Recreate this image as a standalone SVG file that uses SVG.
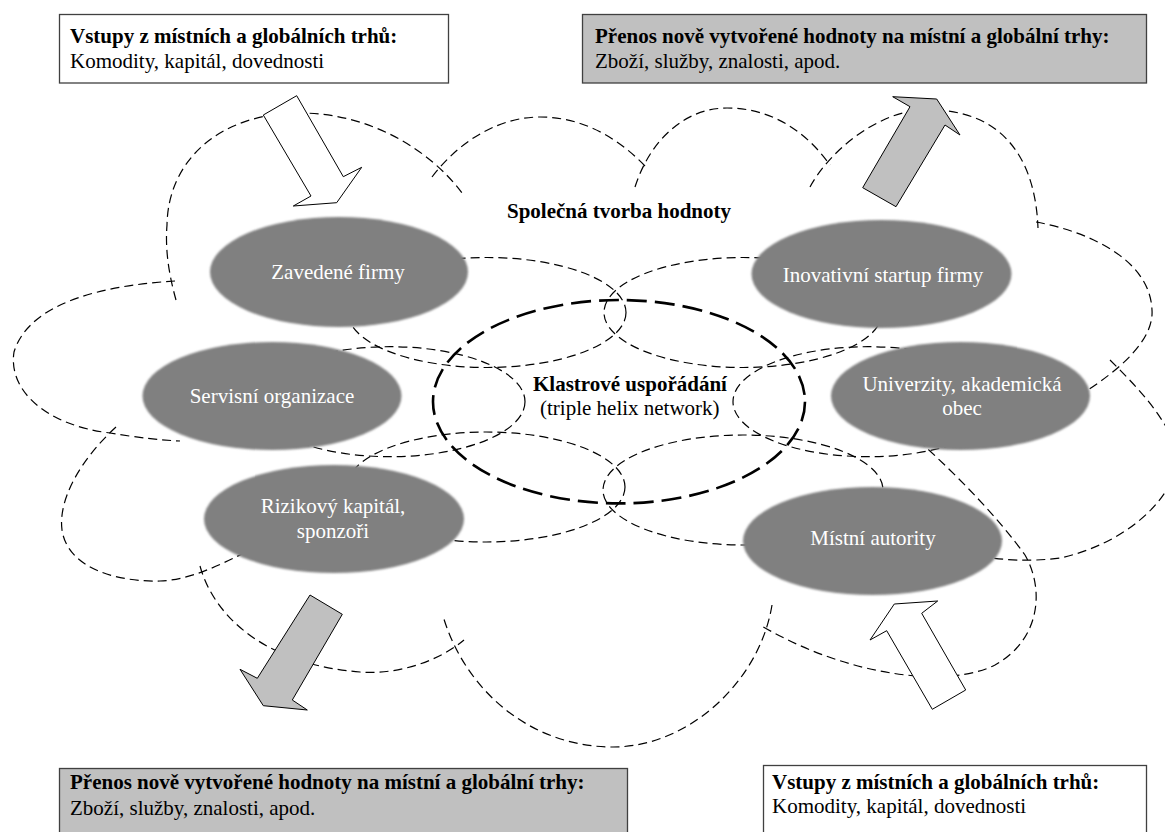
<svg xmlns="http://www.w3.org/2000/svg" width="1165" height="832" viewBox="0 0 1165 832" font-family="'Liberation Serif', 'DejaVu Serif', serif">
  <defs>
    <filter id="soft" x="-5%" y="-5%" width="110%" height="110%">
      <feGaussianBlur stdDeviation="0.8"/>
    </filter>
  </defs>
  <style>
    text { font-family: 'Liberation Serif', 'DejaVu Serif', serif; font-size: 21px; fill: #000; }
    .b { font-weight: bold; }
    .w { fill: #fff; }
    .mid { text-anchor: middle; }
    .cloud { fill: none; stroke: #000; stroke-width: 1.2; stroke-dasharray: 9 5; }
    .link { fill: none; stroke: #000; stroke-width: 1.2; stroke-dasharray: 9 5; }
    .core { fill: none; stroke: #000; stroke-width: 2.6; stroke-dasharray: 20 8; }
    .actor { fill: #808080; filter: url(#soft); }
    .box { stroke: #404040; stroke-width: 1.3; }
    .arrow { stroke: #000; stroke-width: 1; stroke-linejoin: miter; }
  </style>

  <rect width="1165" height="832" fill="#fff"/>

  <!-- dashed cloud outline: one path per lobe -->
  <g id="cloud">
    <path class="cloud" d="M176,300 C169,275 165,250 167,225 C168,160 220,113 300,113 C370,113 430,150 462,193"/>
    <path class="cloud" d="M432,177 C460,140 500,117 540,117 C585,117 620,140 645,166"/>
    <path class="cloud" d="M635,187 C650,140 685,108 727,108 C770,108 805,130 830,165"/>
    <path class="cloud" d="M810,187 C830,150 880,110 925,110 C995,108 1035,150 1038,228"/>
    <path class="cloud" d="M1036,222 C1090,232 1150,260 1152,310 C1154,340 1120,370 1080,395"/>
    <path class="cloud" d="M1110,360 C1140,390 1170,420 1185,470"/>
    <path class="cloud" d="M1180,455 C1172,505 1120,545 1060,558 C1030,562 1000,560 980,556"/>
    <path class="cloud" d="M918,440 C960,478 1000,520 1025,555 C1045,590 1040,640 995,665 C950,688 850,678 760,625"/>
    <path class="cloud" d="M772,605 C760,680 690,747 613,747 C530,747 465,690 443,616"/>
    <path class="cloud" d="M200,566 C215,620 270,665 360,672 C400,675 440,660 464,640"/>
    <path class="cloud" d="M116,427 C80,460 58,500 62,530 C68,570 120,582 160,581 C190,580 220,565 250,550"/>
    <path class="cloud" d="M175,281 C110,285 30,300 14,352 C8,390 45,425 110,433 C140,438 160,440 180,441"/>
  </g>

  <!-- connectors: dashed links from each actor into the cluster -->
  <g id="connectors">
    <ellipse class="link" cx="487" cy="312.5" rx="139" ry="55"/>
    <ellipse class="link" cx="743" cy="312.5" rx="139" ry="55"/>
    <ellipse class="link" cx="390" cy="401.7" rx="135" ry="55"/>
    <ellipse class="link" cx="868" cy="401.7" rx="135" ry="55"/>
    <ellipse class="link" cx="486" cy="487" rx="139" ry="55"/>
    <ellipse class="link" cx="743" cy="490" rx="140" ry="55"/>
  </g>

  <!-- cluster core -->
  <g id="cluster">
    <ellipse class="core" cx="619" cy="401.7" rx="186" ry="101.7"/>
    <text class="b" x="533" y="390.5">Klastrové uspořádání</text>
    <text x="540" y="415">(triple helix network)</text>
  </g>

  <g id="shared-value">
    <text class="b" x="507" y="218.3">Společná tvorba hodnoty</text>
  </g>

  <!-- actors -->
  <g id="zavedene-firmy">
    <ellipse class="actor" cx="339" cy="272" rx="129" ry="55"/>
    <text class="w mid" x="338" y="279.3">Zavedené firmy</text>
  </g>
  <g id="inovativni-startup">
    <ellipse class="actor" cx="881.5" cy="274" rx="130" ry="54"/>
    <text class="w mid" x="883" y="281.7">Inovativní startup firmy</text>
  </g>
  <g id="servisni-organizace">
    <ellipse class="actor" cx="272" cy="396" rx="129.5" ry="54"/>
    <text class="w mid" x="272" y="402.7">Servisní organizace</text>
  </g>
  <g id="univerzity">
    <ellipse class="actor" cx="960.5" cy="396" rx="129.5" ry="54"/>
    <text class="w mid" x="962" y="390.7">Univerzity, akademická</text>
    <text class="w mid" x="962" y="415">obec</text>
  </g>
  <g id="rizikovy-kapital">
    <ellipse class="actor" cx="334" cy="519" rx="130" ry="54"/>
    <text class="w mid" x="333" y="512.7">Rizikový kapitál,</text>
    <text class="w mid" x="333" y="538">sponzoři</text>
  </g>
  <g id="mistni-autority">
    <ellipse class="actor" cx="872.5" cy="541" rx="129.5" ry="54"/>
    <text class="w mid" x="873" y="545">Místní autority</text>
  </g>

  <!-- block arrows: inputs (white) and outputs (grey) -->
  <g id="flows">
    <polygon class="arrow" fill="#fff" points="263.3,115 311,196 293.3,206 336.7,202.7 361.7,167.3 343.3,176.7 296.7,95.7"/>
    <polygon class="arrow" fill="#c0c0c0" points="862.7,187.7 910,106.7 892.7,96.7 936.7,99 960,135 945,125 896,206.7"/>
    <polygon class="arrow" fill="#c0c0c0" points="310,595 342.3,614.3 292.3,700 307.3,710 263.3,705.7 240,669.3 257.3,678.3"/>
    <polygon class="arrow" fill="#fff" points="932.3,709.3 965.7,690 921.7,613.3 937.7,601 894.3,604 870,640 886.7,630.7"/>
  </g>

  <!-- market boxes -->
  <g id="input-top">
    <rect class="box" x="59.5" y="14.5" width="389" height="68.5" fill="#fff"/>
    <text class="b" x="70" y="43">Vstupy z místních a globálních trhů:</text>
    <text x="70" y="68.3">Komodity, kapitál, dovednosti</text>
  </g>
  <g id="output-top">
    <rect class="box" x="582.5" y="14.5" width="564" height="68.5" fill="#c0c0c0"/>
    <text class="b" x="595" y="43">Přenos nově vytvořené hodnoty na místní a globální trhy:</text>
    <text x="595" y="68.3">Zboží, služby, znalosti, apod.</text>
  </g>
  <g id="output-bottom">
    <rect class="box" x="59.5" y="768.5" width="568" height="80" fill="#c0c0c0"/>
    <text class="b" x="70" y="789.3">Přenos nově vytvořené hodnoty na místní a globální trhy:</text>
    <text x="70" y="815">Zboží, služby, znalosti, apod.</text>
  </g>
  <g id="input-bottom">
    <rect class="box" x="763.5" y="765.5" width="383" height="80" fill="#fff"/>
    <text class="b" x="772" y="788.5">Vstupy z místních a globálních trhů:</text>
    <text x="772" y="813">Komodity, kapitál, dovednosti</text>
  </g>
</svg>
